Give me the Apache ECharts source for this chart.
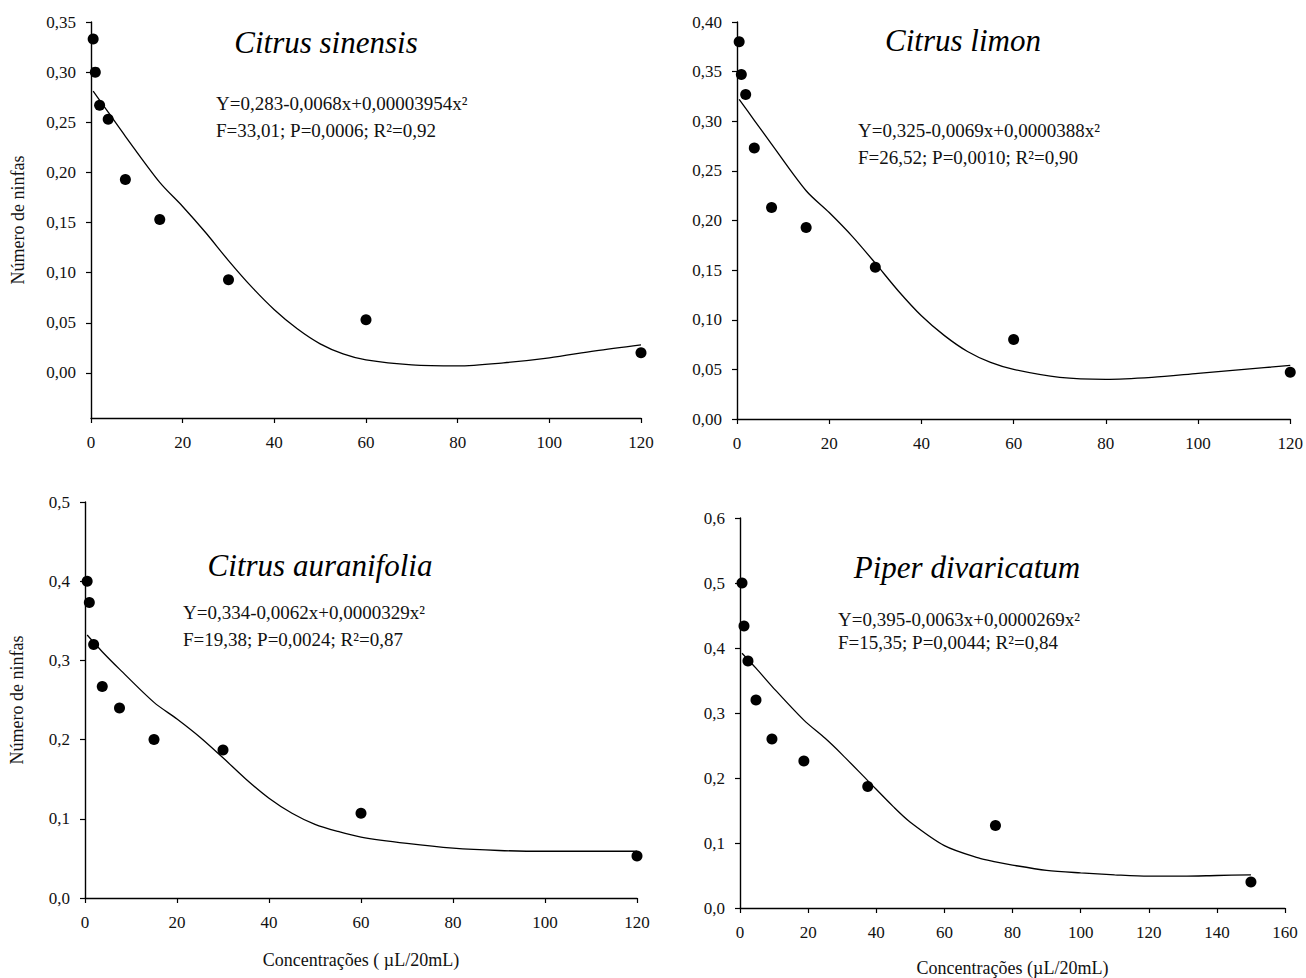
<!DOCTYPE html>
<html>
<head>
<meta charset="utf-8">
<script src="https://cdn.jsdelivr.net/npm/echarts@6.0.0/dist/echarts.min.js"></script>
<style>
    html, body {margin: 0; padding: 0; background: #fff;}
    #chart {width: 1306px; height: 978px;}
</style>
</head>
<body>
<div id="chart"></div>
<script>
// concentrations used in the trials
const citrusConc = [0.47, 0.94, 1.88, 3.75, 7.5, 15, 30, 60, 120];
const piperConc = [0.59, 1.17, 2.34, 4.69, 9.38, 18.75, 37.5, 75, 150];

// observed nymph counts
const sinensisObs = [0.333, 0.300, 0.267, 0.253, 0.193, 0.153, 0.093, 0.053, 0.020];
const limonObs = [0.380, 0.347, 0.327, 0.273, 0.213, 0.193, 0.153, 0.080, 0.047];
const auranifoliaObs = [0.400, 0.373, 0.320, 0.267, 0.240, 0.200, 0.187, 0.107, 0.053];
const piperObs = [0.500, 0.434, 0.380, 0.320, 0.260, 0.226, 0.187, 0.127, 0.040];

// fitted curves
const citrusFitX = [0.47, 3.75, 7.5, 15, 20, 25, 30, 35, 40, 45, 50, 55, 60, 70, 80, 90, 100, 110, 120];
const sinensisFit = [0.281, 0.260, 0.236, 0.190, 0.166, 0.140, 0.112, 0.086, 0.063, 0.044, 0.029, 0.019, 0.013, 0.008, 0.007, 0.010, 0.015, 0.022, 0.028];
const limonFit = [0.322, 0.301, 0.277, 0.230, 0.208, 0.184, 0.157, 0.129, 0.104, 0.084, 0.068, 0.057, 0.050, 0.042, 0.040, 0.042, 0.046, 0.050, 0.054];
const auranifoliaFit = [0.332, 0.311, 0.289, 0.247, 0.226, 0.203, 0.177, 0.150, 0.126, 0.107, 0.093, 0.084, 0.077, 0.069, 0.063, 0.060, 0.059, 0.059, 0.059];
const piperFitX = [0.59, 4.69, 9.38, 18.75, 25, 30, 37.5, 45, 50, 60, 70, 75, 80, 90, 100, 110, 120, 130, 140, 150];
const piperFit = [0.392, 0.369, 0.341, 0.289, 0.261, 0.236, 0.196, 0.156, 0.132, 0.096, 0.077, 0.071, 0.066, 0.058, 0.054, 0.051, 0.049, 0.049, 0.050, 0.051];

// tick labels of the first y axis (its line runs below zero)
const sinensisTicks = [0, 0.05, 0.10, 0.15, 0.20, 0.25, 0.30, 0.35];

const titles = ['Citrus sinensis', 'Citrus limon', 'Citrus auranifolia', 'Piper divaricatum'];
const equations = [
    ['Y=0,283-0,0068x+0,00003954x²', 'F=33,01; P=0,0006; R²=0,92'],
    ['Y=0,325-0,0069x+0,0000388x²', 'F=26,52; P=0,0010; R²=0,90'],
    ['Y=0,334-0,0062x+0,0000329x²', 'F=19,38; P=0,0024; R²=0,87'],
    ['Y=0,395-0,0063x+0,0000269x²', 'F=15,35; P=0,0044; R²=0,84']
];

const serif = '"Liberation Serif", "Times New Roman", serif';

const pair = (xs, ys) => xs.map((x, i) => [x, ys[i]]);
const comma = d => v => v.toFixed(d).replace('.', ',');

const grids = [
    {left: 91, top: 22, width: 550, height: 396},
    {left: 737, top: 22, width: 555, height: 397},
    {left: 85, top: 502, width: 552, height: 396},
    {left: 740, top: 518, width: 545, height: 390}
];

const axisLine = {onZero: false, lineStyle: {color: '#000', width: 1.4}};
const axisTick = {length: 5, lineStyle: {color: '#000', width: 1.2}};
const labelStyle = {color: '#111', fontFamily: serif, fontSize: 17};
const nameStyle = {color: '#111', fontFamily: serif, fontSize: 18};

function xAxisFor(i, max, name, gap) {
    return {
        gridIndex: i, type: 'value', min: 0, max: max, interval: 20,
        axisLine: axisLine, axisTick: axisTick,
        axisLabel: Object.assign({margin: 16}, labelStyle),
        splitLine: {show: false},
        name: name || '', nameLocation: 'middle', nameGap: gap || 0,
        nameTextStyle: nameStyle
    };
}

function yAxisFor(i, opts, name, gap) {
    return Object.assign({
        gridIndex: i, type: 'value',
        axisLine: axisLine, axisTick: axisTick,
        splitLine: {show: false},
        name: name || '', nameLocation: 'middle', nameGap: gap || 0,
        nameTextStyle: nameStyle
    }, opts);
}

const yName = 'Número de ninfas';

const xAxes = [
    xAxisFor(0, 120),
    xAxisFor(1, 120),
    xAxisFor(2, 120, 'Concentrações ( µL/20mL)', 53),
    xAxisFor(3, 160, 'Concentrações (µL/20mL)', 51)
];

const yAxes = [
    yAxisFor(0, {
        min: -0.045, max: 0.35,
        axisTick: Object.assign({customValues: sinensisTicks}, axisTick),
        axisLabel: Object.assign({customValues: sinensisTicks, formatter: comma(2), margin: 15}, labelStyle)
    }, yName, 64),
    yAxisFor(1, {min: 0, max: 0.40, interval: 0.05,
        axisLabel: Object.assign({formatter: comma(2), margin: 15}, labelStyle)}),
    yAxisFor(2, {min: 0, max: 0.5, interval: 0.1,
        axisLabel: Object.assign({formatter: comma(1), margin: 15}, labelStyle)}, yName, 59),
    yAxisFor(3, {min: 0, max: 0.6, interval: 0.1,
        axisLabel: Object.assign({formatter: comma(1), margin: 15}, labelStyle)})
];

const fits = [pair(citrusFitX, sinensisFit), pair(citrusFitX, limonFit), pair(citrusFitX, auranifoliaFit), pair(piperFitX, piperFit)];
const observed = [pair(citrusConc, sinensisObs), pair(citrusConc, limonObs), pair(citrusConc, auranifoliaObs), pair(piperConc, piperObs)];

let series = [];
for (let i = 0; i < 4; i++) {
    series.push({
        type: 'line', xAxisIndex: i, yAxisIndex: i, data: fits[i],
        smooth: 0.3, showSymbol: false, silent: true,
        lineStyle: {color: '#000', width: 1.3}
    });
    series.push({
        type: 'scatter', xAxisIndex: i, yAxisIndex: i, data: observed[i],
        symbol: 'circle', symbolSize: 11, itemStyle: {color: '#000', opacity: 1}
    });
}

// title and equation positions (px)
const titlePos = [[326, 42], [963, 40], [320, 565], [967, 567]];
const eqPos = [[216, 103, 130], [858, 130, 157], [183, 612, 639], [838, 619, 642]];

let texts = [];
titles.forEach((t, i) => {
    texts.push({
        type: 'text', x: titlePos[i][0], y: titlePos[i][1],
        style: {text: t, fill: '#000', font: 'italic 31px ' + serif, textAlign: 'center', textVerticalAlign: 'middle'}
    });
});
equations.forEach((e, i) => {
    texts.push({
        type: 'text', x: eqPos[i][0], y: eqPos[i][1],
        style: {text: e[0], fill: '#111', font: '19px ' + serif, textAlign: 'left', textVerticalAlign: 'middle'}
    });
    texts.push({
        type: 'text', x: eqPos[i][0], y: eqPos[i][2],
        style: {text: e[1], fill: '#111', font: '19px ' + serif, textAlign: 'left', textVerticalAlign: 'middle'}
    });
});

let myChart = echarts.init(document.getElementById('chart'), null, {renderer: 'svg'});
myChart.setOption({
    animation: false,
    backgroundColor: '#fff',
    grid: grids,
    xAxis: xAxes,
    yAxis: yAxes,
    series: series,
    graphic: texts
});
</script>
</body>
</html>
